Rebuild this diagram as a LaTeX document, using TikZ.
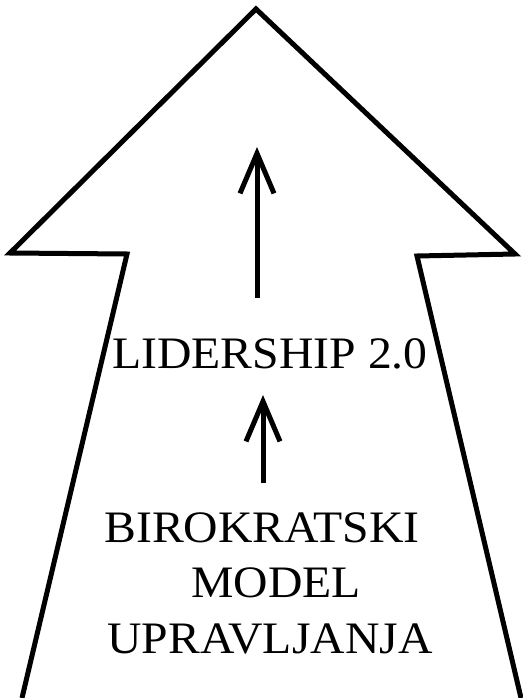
\documentclass[tikz,border=0pt]{standalone}
\usepackage{fontspec}
\setmainfont{Liberation Serif}
\usetikzlibrary{arrows.meta}
\newcommand{\wide}[1]{\scalebox{1.06}[1]{#1}}
\tikzset{
  outline/.style={line width=5pt, line join=miter},
  uparrow/.style={line width=5pt, -{Straight Barb[length=40pt,width=34pt,line width=5pt]}},
  label/.style={font=\fontsize{45}{50}\selectfont, inner sep=0pt, anchor=base}
}
\begin{document}
\begin{tikzpicture}[x=1pt,y=-1pt]
\useasboundingbox (0,0) rectangle (522,698);
\fill[white] (0,0) rectangle (522,698);
\coordinate (bl) at (22,698);
\coordinate (il) at (127,254);
\coordinate (ol) at (10,253);
\coordinate (tip) at (256,9);
\coordinate (or) at (515,254);
\coordinate (ir) at (417,256);
\coordinate (br) at (521,698);
\draw[outline] (bl) -- (il) -- (ol) -- (tip) -- (or) -- (ir) -- (br);
\node[label] (lid) at (270,368) {\wide{LIDERSHIP 2.0}};
\node[label] (b1) at (262,542) {\wide{BIROKRATSKI}};
\node[label] (b2) at (276,597) {\wide{MODEL}};
\node[label] (b3) at (270,653) {\wide{UPRAVLJANJA}};
\coordinate (a1s) at (257,298);
\coordinate (a1e) at (257,147);
\coordinate (a2s) at (263,483);
\coordinate (a2e) at (263,395);
\draw[uparrow] (a1s) -- (a1e);
\draw[uparrow] (a2s) -- (a2e);
\end{tikzpicture}
\end{document}
